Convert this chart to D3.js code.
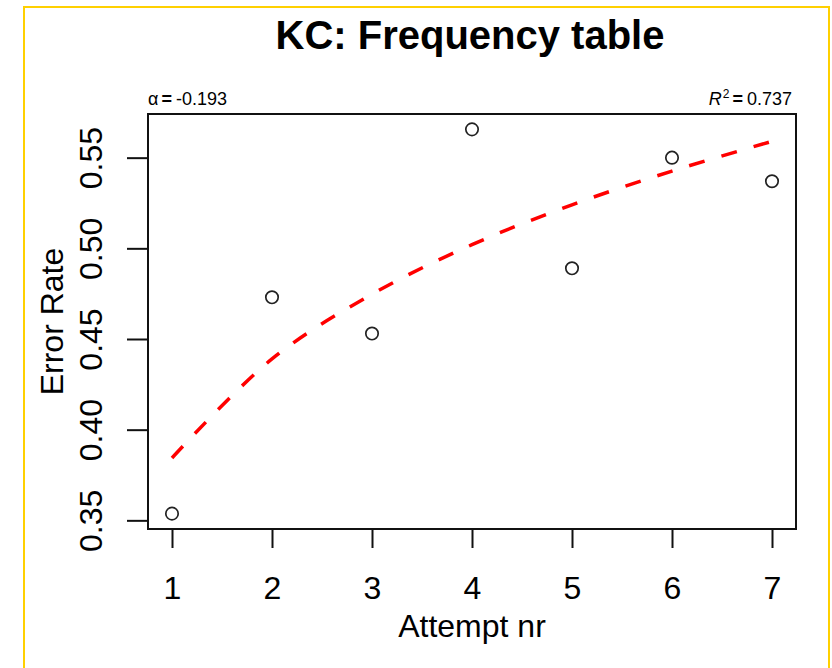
<!DOCTYPE html>
<html>
<head>
<meta charset="utf-8">
<script src="https://cdn.jsdelivr.net/npm/d3@7"></script>
<style>
  html, body { margin: 0; padding: 0; background: #ffffff; }
  svg { display: block; }
  text { font-family: "Liberation Sans", Arial, sans-serif; fill: #000; }
</style>
</head>
<body>
<svg id="chart" width="832" height="668"></svg>
<script>
// ---- data ----
const attempts = [1, 2, 3, 4, 5, 6, 7];
const errorRate = [0.3537, 0.4730, 0.4530, 0.5656, 0.4890, 0.5500, 0.5370];
const fittedRate = [0.3844, 0.4390, 0.4747, 0.5020, 0.5240, 0.5426, 0.5590];
const xTicks = [1, 2, 3, 4, 5, 6, 7];
const yTicks = [0.35, 0.40, 0.45, 0.50, 0.55];
const yTickLabels = ["0.35", "0.40", "0.45", "0.50", "0.55"];
const titleText = "KC: Frequency table";
const xLabel = "Attempt nr";
const yLabel = "Error Rate";
const alphaValue = "-0.193";
const r2Value = "0.737";

// ---- layout ----
const svg = d3.select("#chart");
const plot = { left: 148, right: 796, top: 114, bottom: 529 };

const xPad = (d3.max(attempts) - d3.min(attempts)) * 0.04;
const x = d3.scaleLinear()
  .domain([d3.min(attempts) - xPad, d3.max(attempts) + xPad])
  .range([plot.left, plot.right]);
const yMin = d3.min(errorRate), yMax = d3.max(errorRate);
const yPad = (yMax - yMin) * 0.04;
const y = d3.scaleLinear()
  .domain([yMin - yPad, yMax + yPad])
  .range([plot.bottom, plot.top]);

// yellow frame
svg.append("path")
  .attr("d", "M24,668 L24,7 L829,7 L829,668")
  .attr("fill", "none")
  .attr("stroke", "#FFD000")
  .attr("stroke-width", 2);

// title
svg.append("text")
  .attr("x", 470)
  .attr("y", 49)
  .attr("text-anchor", "middle")
  .style("font-size", "40px")
  .style("font-weight", "bold")
  .text(titleText);

// fitted curve (dashed red)
const line = d3.line()
  .x((d, i) => x(attempts[i]))
  .y(d => y(d))
  .curve(d3.curveCatmullRom.alpha(0.5));
svg.append("path")
  .datum(fittedRate)
  .attr("d", line)
  .attr("fill", "none")
  .attr("stroke", "#FF0000")
  .attr("stroke-width", 3.5)
  .attr("stroke-dasharray", "16,17.5")
  .attr("stroke-linecap", "butt");

// points
svg.append("g")
  .selectAll("circle")
  .data(errorRate)
  .join("circle")
  .attr("cx", (d, i) => x(attempts[i]))
  .attr("cy", d => y(d))
  .attr("r", 6.2)
  .attr("fill", "none")
  .attr("stroke", "#222")
  .attr("stroke-width", 1.7);

// box
svg.append("rect")
  .attr("x", plot.left)
  .attr("y", plot.top)
  .attr("width", plot.right - plot.left)
  .attr("height", plot.bottom - plot.top)
  .attr("fill", "none")
  .attr("stroke", "#111")
  .attr("stroke-width", 2);

// x axis
const xAxis = d3.axisBottom(x)
  .tickValues(xTicks)
  .tickFormat(d3.format("d"))
  .tickSize(19)
  .tickPadding(8);
const gx = svg.append("g")
  .attr("transform", `translate(0,${plot.bottom})`)
  .call(xAxis);
gx.select(".domain").remove();
gx.selectAll(".tick line").attr("stroke", "#111").attr("stroke-width", 2);
gx.selectAll(".tick text")
  .attr("dy", null)
  .attr("y", 70)
  .style("font-size", "32px")
  .style("font-family", "'Liberation Sans', Arial, sans-serif")
  .attr("fill", "#000");

// y axis
const yAxis = d3.axisLeft(y)
  .tickValues(yTicks)
  .tickFormat((d, i) => yTickLabels[i])
  .tickSize(21);
const gy = svg.append("g")
  .attr("transform", `translate(${plot.left},0)`)
  .call(yAxis);
gy.select(".domain").remove();
gy.selectAll(".tick line").attr("stroke", "#111").attr("stroke-width", 2);
gy.selectAll(".tick text")
  .attr("x", null)
  .attr("dy", null)
  .attr("text-anchor", "middle")
  .attr("transform", "translate(-46.5,0) rotate(-90)")
  .style("font-size", "32px")
  .style("font-family", "'Liberation Sans', Arial, sans-serif")
  .attr("fill", "#000");

// axis titles
svg.append("text")
  .attr("x", (plot.left + plot.right) / 2)
  .attr("y", 637)
  .attr("text-anchor", "middle")
  .style("font-size", "32px")
  .text(xLabel);
svg.append("text")
  .attr("transform", `translate(63,${(plot.top + plot.bottom) / 2}) rotate(-90)`)
  .attr("text-anchor", "middle")
  .style("font-size", "32px")
  .text(yLabel);

// annotations
const a1 = svg.append("text")
  .attr("x", plot.left)
  .attr("y", 105)
  .style("font-size", "18px");
a1.append("tspan").text("\u03B1");
a1.append("tspan").attr("dx", 3).style("font-weight", "bold").text("=");
a1.append("tspan").attr("dx", 4).text(alphaValue);

const a2 = svg.append("text")
  .attr("x", plot.right - 4)
  .attr("y", 105)
  .attr("text-anchor", "end")
  .style("font-size", "18px");
a2.append("tspan").style("font-style", "italic").text("R");
a2.append("tspan").attr("dy", -7).attr("dx", 1).style("font-size", "12px").text("2");
a2.append("tspan").attr("dy", 7).attr("dx", 3).style("font-weight", "bold").text("=");
a2.append("tspan").attr("dx", 4).text(r2Value);
</script>
</body>
</html>
